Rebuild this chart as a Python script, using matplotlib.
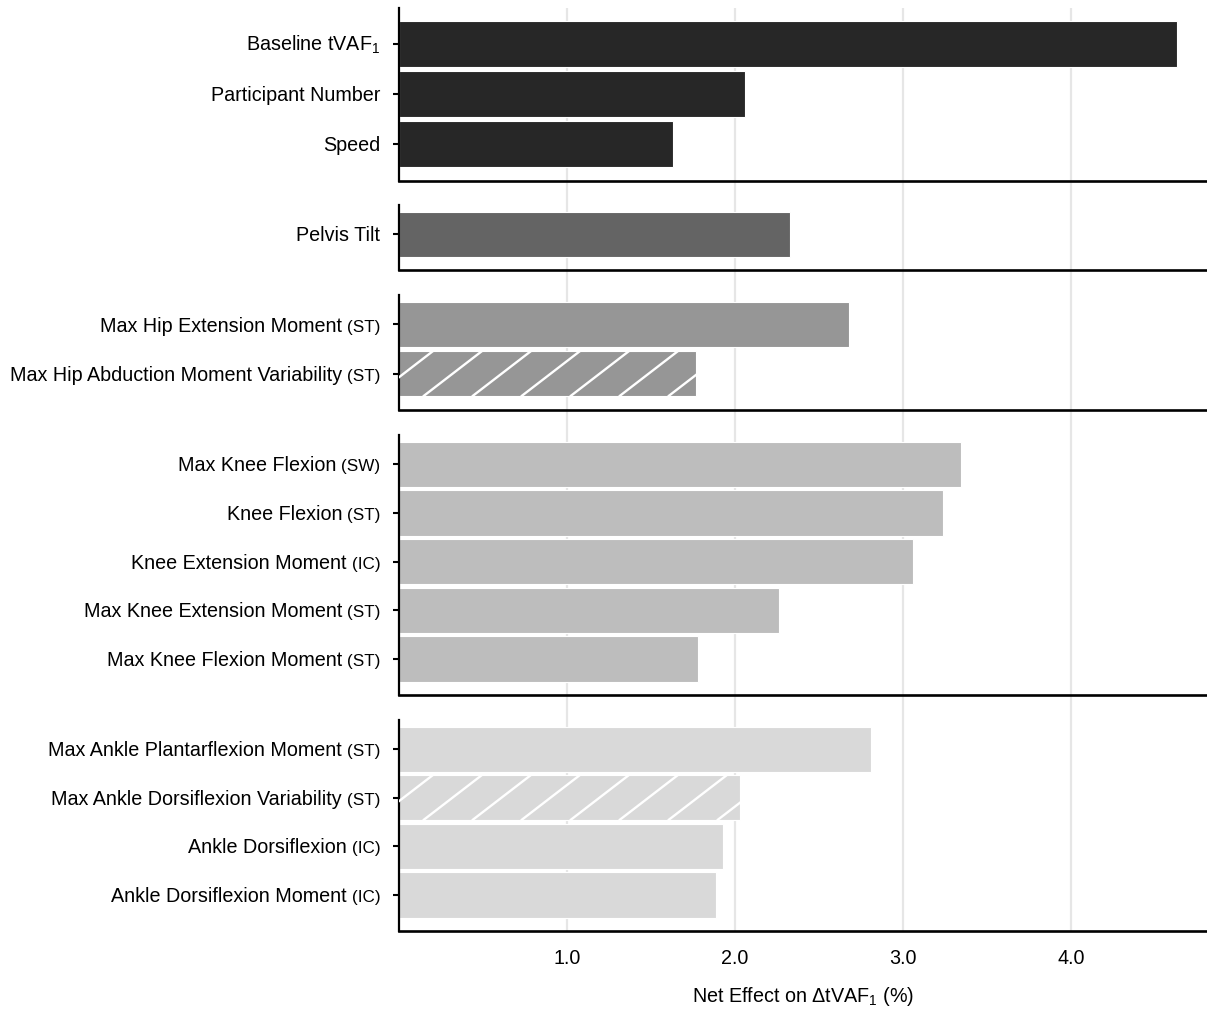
"""
Net effect of each predictor on change in tVAF1, grouped by joint / domain.
Horizontal bars in stacked panels sharing one x axis.
"""

import numpy as np
import matplotlib
matplotlib.use("Agg")
import matplotlib.pyplot as plt

# ─── Data ────────────────────────────────────────────────────────────────────

LABELS = [
    r"Baseline tVAF$_\mathregular{1}$",
    "Participant Number",
    "Speed",
    "Pelvis Tilt",
    "Max Hip Extension Moment",
    "Max Hip Abduction Moment Variability",
    "Max Knee Flexion",
    "Knee Flexion",
    "Knee Extension Moment",
    "Max Knee Extension Moment",
    "Max Knee Flexion Moment",
    "Max Ankle Plantarflexion Moment",
    "Max Ankle Dorsiflexion Variability",
    "Ankle Dorsiflexion",
    "Ankle Dorsiflexion Moment",
]
PHASES = ["", "", "", "", "ST", "ST", "SW", "ST", "IC", "ST", "ST",
          "ST", "ST", "IC", "IC"]
NET_EFFECT = [4.63, 2.06, 1.63, 2.33, 2.68, 1.77, 3.345, 3.24, 3.06, 2.26,
              1.78, 2.81, 2.03, 1.93, 1.89]
PANEL = [0, 0, 0, 1, 2, 2, 3, 3, 3, 3, 3, 4, 4, 4, 4]
HATCHED = [False, False, False, False, False, True, False, False, False,
           False, False, False, True, False, False]
X_TICKS = [1.0, 2.0, 3.0, 4.0]
X_TICK_LABELS = ["1.0", "2.0", "3.0", "4.0"]

# ─── Style / layout ──────────────────────────────────────────────────────────

PANEL_COLORS = ["#272727", "#646464", "#969696", "#bdbdbd", "#d9d9d9"]
FIG_W, FIG_H, DPI = 1207, 1010, 100
AX_LEFT, AX_RIGHT = 399, 1207                     # pixel columns of x axis
PANEL_PX = [(8, 181), (205, 270), (295, 410), (435, 695), (720, 931)]
TOP_PADS = [0.72, 0.6, 0.6, 0.6, 0.6]
BOTTOM_PAD = 0.74
X_MAX = 4.81
BAR_H = 0.93
FONT = "Liberation Sans"
LABEL_SIZE = 14.2
PHASE_SIZE = 12.3
GRID_COLOR = "#e6e6e6"

plt.rcParams["font.family"] = [FONT, "DejaVu Sans"]
plt.rcParams["mathtext.fontset"] = "custom"
plt.rcParams["mathtext.rm"] = FONT
plt.rcParams["mathtext.it"] = FONT + ":italic"


def px_rect(top, bottom):
    """Figure-fraction rect for an axes spanning the given pixel rows."""
    return [AX_LEFT / FIG_W, 1 - bottom / FIG_H,
            (AX_RIGHT - AX_LEFT) / FIG_W, (bottom - top) / FIG_H]


def add_hatch(ax, bar, spacing_px=49, slope=0.77, phase_px=24):
    """White slanted lines clipped to a bar (matplotlib hatches are too dense)."""
    x0, y0 = bar.get_x(), bar.get_y()
    x1, y1 = x0 + bar.get_width(), y0 + bar.get_height()
    to_px = ax.transData
    (L, B), (R, T) = to_px.transform([(x0, y1), (x1, y0)])
    run = (T - B) / slope
    inv = to_px.inverted()
    start = L + phase_px - spacing_px * np.ceil((phase_px + run) / spacing_px)
    for xb in np.arange(start, R + spacing_px, spacing_px):
        pts = inv.transform([(xb, B), (xb + run, T)])
        ln, = ax.plot(pts[:, 0], pts[:, 1], color="white", lw=1.7,
                      solid_capstyle="butt", zorder=3)
        ln.set_clip_path(bar)


fig = plt.figure(figsize=(FIG_W / DPI, FIG_H / DPI), dpi=DPI)

# background axes carrying the vertical gridlines across all panels
bg = fig.add_axes(px_rect(PANEL_PX[0][0], PANEL_PX[-1][1]), zorder=0)
bg.set_xlim(0, X_MAX)
for x in X_TICKS:
    bg.axvline(x, color=GRID_COLOR, lw=1.6)
bg.axis("off")

labels = np.array(LABELS, dtype=object)
phases = np.array(PHASES, dtype=object)
values = np.array(NET_EFFECT)
panels = np.array(PANEL)
hatched = np.array(HATCHED)

axes = []
for p, (top, bottom) in enumerate(PANEL_PX):
    ax = fig.add_axes(px_rect(top, bottom), zorder=1)
    ax.patch.set_alpha(0)
    idx = np.where(panels == p)[0]
    rows = np.arange(len(idx))
    bars = ax.barh(rows, values[idx], height=BAR_H, color=PANEL_COLORS[p],
                   edgecolor="white", linewidth=0.8, zorder=2)
    ax.set_xlim(0, X_MAX)
    ax.set_ylim(len(idx) - 1 + BOTTOM_PAD, -TOP_PADS[p])
    for s in ("top", "right"):
        ax.spines[s].set_visible(False)
    ax.spines["left"].set_linewidth(1.6)
    ax.spines["bottom"].set_linewidth(1.9)
    ax.set_yticks(rows)
    ax.set_yticklabels([])
    ax.tick_params(axis="y", length=4.5, width=1.5, color="black")
    ax.set_xticks(X_TICKS)
    ax.tick_params(axis="x", length=0)
    if p < len(PANEL_PX) - 1:
        ax.set_xticklabels([])
    else:
        ax.set_xticklabels(X_TICK_LABELS, fontsize=LABEL_SIZE)
        ax.tick_params(axis="x", pad=13)
        ax.set_xlabel(r"Net Effect on ΔtVAF$_\mathregular{1}$ (%)",
                      fontsize=LABEL_SIZE, labelpad=12)
    axes.append((ax, idx, rows, bars))

fig.canvas.draw()
renderer = fig.canvas.get_renderer()

# row labels: main text plus a smaller gait-phase tag, sharing a baseline
base_dy = -LABEL_SIZE * 0.716 / 2
for ax, idx, rows, bars in axes:
    ytrans = ax.get_yaxis_transform()
    for r, i, bar in zip(rows, idx, bars):
        if hatched[i]:
            add_hatch(ax, bar)
        x_off = -13.5
        if phases[i]:
            tag = ax.annotate(f"({phases[i]})", xy=(0, r), xycoords=ytrans,
                              xytext=(x_off, base_dy), textcoords="offset points",
                              ha="right", va="baseline", fontsize=PHASE_SIZE)
            w_pt = tag.get_window_extent(renderer).width * 72 / DPI
            x_off -= w_pt + 3.5
        ax.annotate(labels[i], xy=(0, r), xycoords=ytrans,
                    xytext=(x_off, base_dy), textcoords="offset points",
                    ha="right", va="baseline", fontsize=LABEL_SIZE)

fig.savefig("out.png", dpi=DPI)
